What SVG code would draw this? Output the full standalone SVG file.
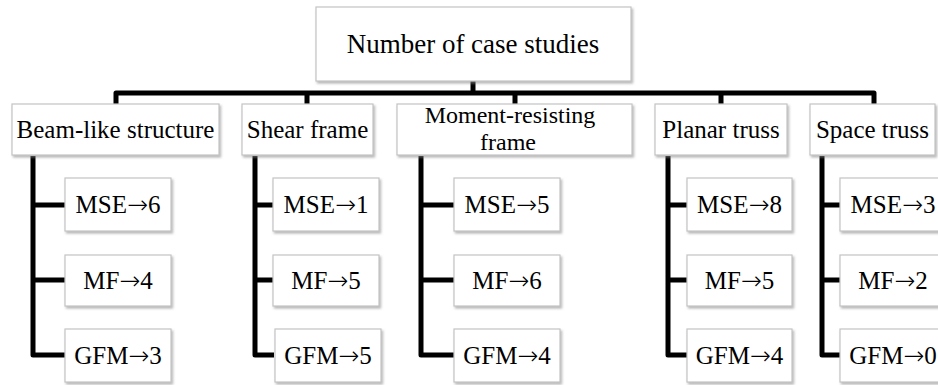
<svg xmlns="http://www.w3.org/2000/svg" width="938" height="385" viewBox="0 0 938 385">
<defs>
<filter id="sh" x="-10%" y="-10%" width="130%" height="140%">
<feDropShadow dx="1.5" dy="2" stdDeviation="1.2" flood-color="#888" flood-opacity="0.6"/>
</filter>
<style>
.box{fill:#fff;stroke:#c4c4c4;stroke-width:1.2;filter:url(#sh)}
.t{font-family:"Liberation Serif","Times New Roman",serif;fill:#000;text-anchor:middle}
.l2{font-size:25px}
.lf{font-size:25px}
.top{font-size:27px}
.m2{font-size:24px}
.a{font-family:"DejaVu Sans",sans-serif;font-size:25px;font-weight:200}
.c{fill:none;stroke:#000;stroke-width:5;stroke-linejoin:round;stroke-linecap:butt}
</style>
</defs>
<rect width="938" height="385" fill="#fff"/>
<g id="connectors">
<path class="c" d="M473 81V93"/>
<path class="c" d="M116 104V93H874V104"/>
<path class="c" d="M307 93V104M515 93V104M721 93V104"/>
<path class="c" d="M33 156V355H66M33 205H66M33 280H66"/>
<path class="c" d="M255 156V355H274M255 205H274M255 280H274"/>
<path class="c" d="M421 156V355H455M421 205H455M421 280H455"/>
<path class="c" d="M668 156V355H688M668 205H688M668 280H688"/>
<path class="c" d="M822 156V355H841M822 205H841M822 280H841"/>
</g>
<g id="root"><rect class="box" x="316" y="7" width="315" height="74"/><text class="t top" x="473" y="53">Number of case studies</text></g>
<g id="beam"><rect class="box" x="12" y="104" width="207" height="51"/><text class="t l2" x="115.5" y="138">Beam-like structure</text></g>
<g id="shear"><rect class="box" x="242" y="104" width="131" height="51"/><text class="t l2" x="307.5" y="138">Shear frame</text></g>
<g id="moment"><rect class="box" x="397" y="104" width="235" height="51"/><text class="t m2" x="510" y="123">Moment-resisting</text><text class="t m2" x="508" y="150">frame</text></g>
<g id="planar"><rect class="box" x="655" y="104" width="132" height="51"/><text class="t l2" x="721" y="138">Planar truss</text></g>
<g id="space"><rect class="box" x="810" y="104" width="125" height="51"/><text class="t l2" x="872.5" y="138">Space truss</text></g>
<g id="beam-mse"><rect class="box" x="65" y="178" width="106" height="53"/><text class="t lf" x="118" y="213">MSE<tspan class="a">→</tspan>6</text></g>
<g id="beam-mf"><rect class="box" x="65" y="255" width="106" height="51"/><text class="t lf" x="118" y="289">MF<tspan class="a">→</tspan>4</text></g>
<g id="beam-gfm"><rect class="box" x="65" y="329" width="106" height="53"/><text class="t lf" x="118" y="364">GFM<tspan class="a">→</tspan>3</text></g>
<g id="shear-mse"><rect class="box" x="273" y="178" width="106" height="53"/><text class="t lf" x="326" y="213">MSE<tspan class="a">→</tspan>1</text></g>
<g id="shear-mf"><rect class="box" x="273" y="255" width="106" height="51"/><text class="t lf" x="326" y="289">MF<tspan class="a">→</tspan>5</text></g>
<g id="shear-gfm"><rect class="box" x="275" y="329" width="106" height="53"/><text class="t lf" x="328" y="364">GFM<tspan class="a">→</tspan>5</text></g>
<g id="moment-mse"><rect class="box" x="454" y="178" width="106" height="53"/><text class="t lf" x="507" y="213">MSE<tspan class="a">→</tspan>5</text></g>
<g id="moment-mf"><rect class="box" x="454" y="255" width="106" height="51"/><text class="t lf" x="507" y="289">MF<tspan class="a">→</tspan>6</text></g>
<g id="moment-gfm"><rect class="box" x="454" y="329" width="106" height="53"/><text class="t lf" x="507" y="364">GFM<tspan class="a">→</tspan>4</text></g>
<g id="planar-mse"><rect class="box" x="687" y="178" width="105" height="53"/><text class="t lf" x="739.5" y="213">MSE<tspan class="a">→</tspan>8</text></g>
<g id="planar-mf"><rect class="box" x="687" y="255" width="105" height="51"/><text class="t lf" x="739.5" y="289">MF<tspan class="a">→</tspan>5</text></g>
<g id="planar-gfm"><rect class="box" x="687" y="329" width="105" height="53"/><text class="t lf" x="739.5" y="364">GFM<tspan class="a">→</tspan>4</text></g>
<g id="space-mse"><rect class="box" x="840" y="178" width="106" height="53"/><text class="t lf" x="893" y="213">MSE<tspan class="a">→</tspan>3</text></g>
<g id="space-mf"><rect class="box" x="840" y="255" width="106" height="51"/><text class="t lf" x="893" y="289">MF<tspan class="a">→</tspan>2</text></g>
<g id="space-gfm"><rect class="box" x="840" y="329" width="106" height="53"/><text class="t lf" x="893" y="364">GFM<tspan class="a">→</tspan>0</text></g>
</svg>
